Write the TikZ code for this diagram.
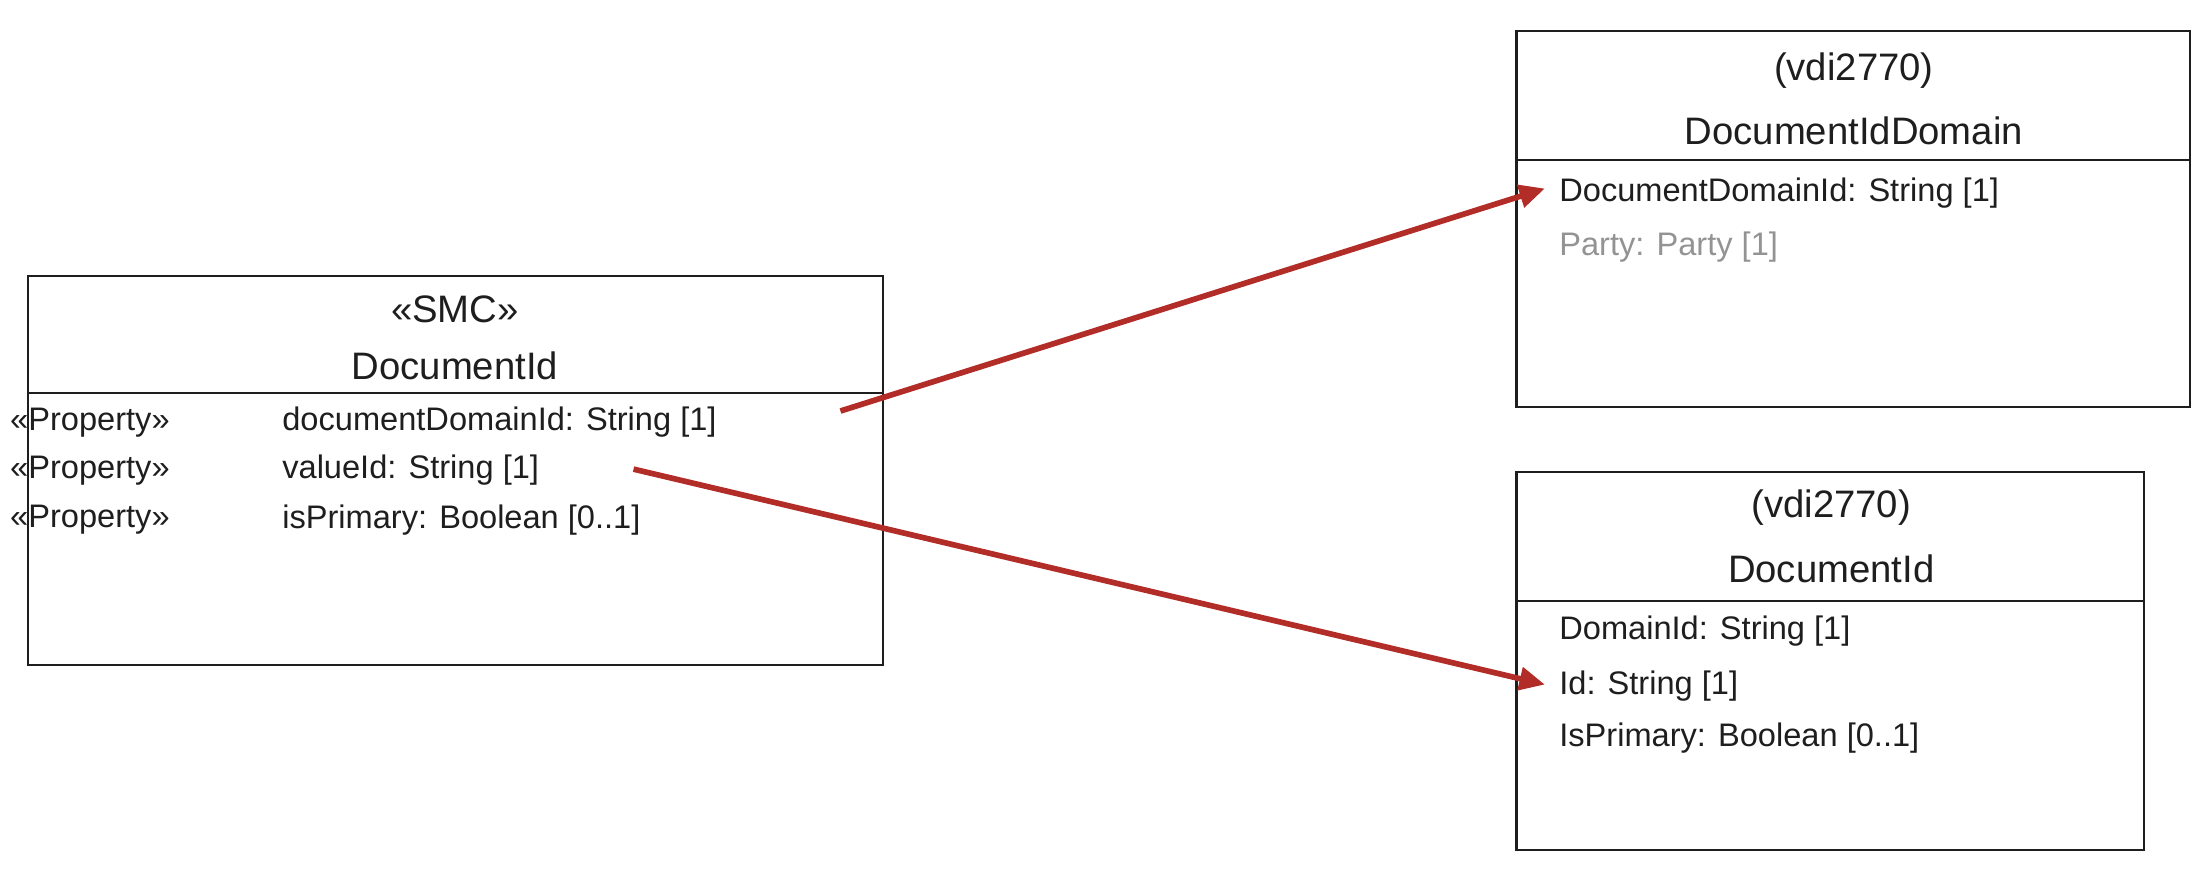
\documentclass[tikz,border=0pt]{standalone}
\usepackage{fontspec}
\setmainfont{Liberation Sans}
\usetikzlibrary{arrows.meta}
\definecolor{arr}{RGB}{178,45,40}
\definecolor{txt}{RGB}{30,30,30}
\begin{document}
\begin{tikzpicture}[x=1pt,y=-1pt,
  box/.style={draw=txt,line width=1.5pt},
  ttl/.style={font=\fontsize{27}{30}\selectfont,text=txt,anchor=center,inner sep=0},
  row/.style={font=\fontsize{23}{26}\selectfont,text=txt,anchor=west,inner sep=0},
  conn/.style={draw=arr,line width=4pt,-{Triangle[length=18pt,width=16pt]}}]
\useasboundingbox (0,0) rectangle (1560,620);
% left box
\draw[box] (20,195) rectangle (623,469);
\draw[box] (20,277) -- (623,277);
\node[ttl] (l1) at (321,218) {«SMC»};
\node[ttl] (l2) at (321,258) {DocumentId};
\node[row] (p1) at (7,298) {«Property»};
\node[row] (p2) at (7,332) {«Property»};
\node[row] (p3) at (7,367) {«Property»};
\node[row] (a1) at (199,298) {documentDomainId: String [1]};
\node[row] (a2) at (199,332) {valueId: String [1]};
\node[row] (a3) at (199,367) {isPrimary: Boolean [0..1]};
% right top
\draw[box] (1070,22) rectangle (1545,287);
\draw[box] (1070,113) -- (1545,113);
\node[ttl] (t1) at (1308,50) {(vdi2770)};
\node[ttl] (t2) at (1308,92) {DocumentIdDomain};
\node[row] (b1) at (1100,136) {DocumentDomainId: String [1]};
\node[row,text=gray!85] (b2) at (1100,174) {Party: Party [1]};
% right bottom
\draw[box] (1070,333) rectangle (1513,600);
\draw[box] (1070,424) -- (1513,424);
\node[ttl] (u1) at (1292,358) {(vdi2770)};
\node[ttl] (u2) at (1292,401) {DocumentId};
\node[row] (c1) at (1100,445) {DomainId: String [1]};
\node[row] (c2) at (1100,484) {Id: String [1]};
\node[row] (c3) at (1100,521) {IsPrimary: Boolean [0..1]};
% connectors
\coordinate (s1) at (593,290);
\coordinate (e1) at (1090,133);
\coordinate (s2) at (447,331);
\coordinate (e2) at (1090,483);
\draw[conn] (s1) -- (e1);
\draw[conn] (s2) -- (e2);
\end{tikzpicture}
\end{document}
